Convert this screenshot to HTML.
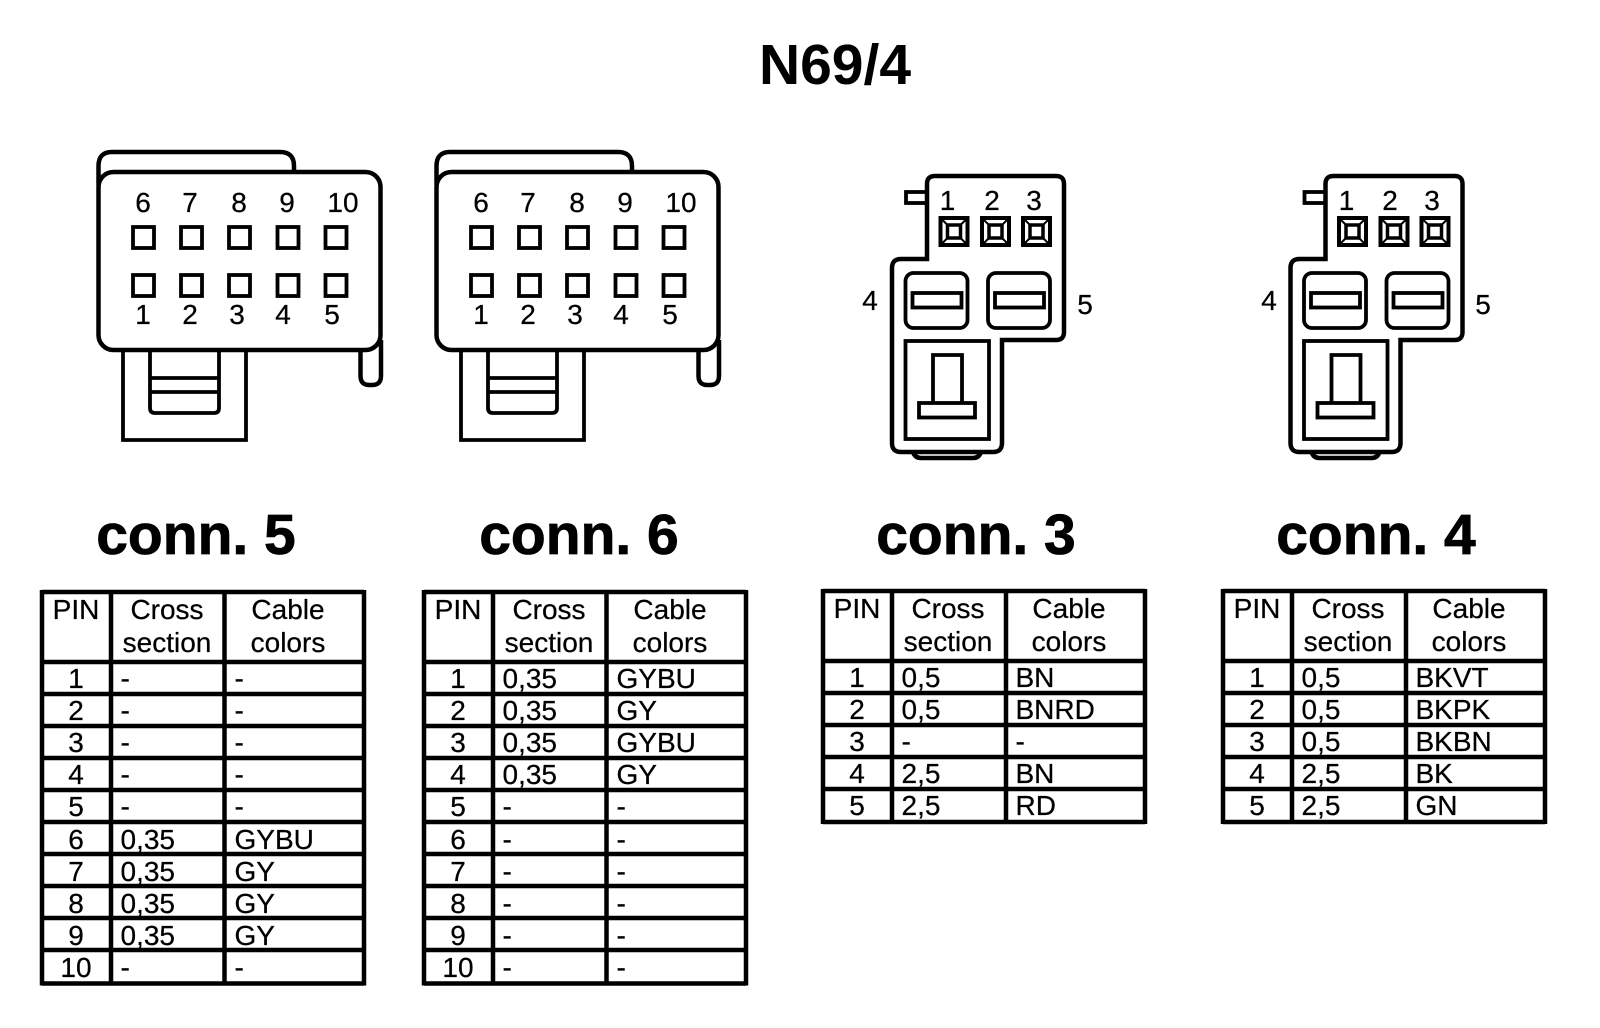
<!DOCTYPE html>
<html><head><meta charset="utf-8"><title>N69/4</title>
<style>html,body{margin:0;padding:0;background:#fff}svg{display:block}
text{font-family:"Liberation Sans",Arial,sans-serif;fill:#000}
.s{font-size:28px;stroke:#000;stroke-width:.25}.m{text-anchor:middle}.b{font-weight:bold}
.l{fill:none;stroke:#000;stroke-width:4.5}.d{fill:none;stroke:#000;stroke-width:3.8}</style></head>
<body>
<svg xmlns="http://www.w3.org/2000/svg" width="1600" height="1028" viewBox="0 0 1600 1028">
<defs>
<g id="big">
<path class="l" d="M98.500 185V166Q98.500 152 112 152H280Q294 152 294 166V172"/>
<rect class="l" x="98.500" y="172" width="282" height="178" rx="15"/>
<path class="d" d="M123 350V440H246V350"/>
<path class="d" d="M150 350V408Q150 413 155 413H214Q219 413 219 408V350M150 378H219M150 392H219"/>
<path class="l" d="M360.500 350V376Q360.500 385 369.500 385H372Q381 385 381 376V340"/>
<g class="d">
<rect x="133" y="227" width="21" height="21"/><rect x="181" y="227" width="21" height="21"/><rect x="229" y="227" width="21" height="21"/><rect x="277.500" y="227" width="21" height="21"/><rect x="325.500" y="227" width="21" height="21"/>
<rect x="133" y="275" width="21" height="21"/><rect x="181" y="275" width="21" height="21"/><rect x="229" y="275" width="21" height="21"/><rect x="277.500" y="275" width="21" height="21"/><rect x="325.500" y="275" width="21" height="21"/>
</g>
</g>
<g id="pin">
<rect x="0" y="0" width="27" height="27" fill="none" stroke="#000" stroke-width="4"/>
<rect x="7" y="7" width="13" height="13" fill="none" stroke="#000" stroke-width="3.500"/>
<path d="M0 0L7 7M27 0L20 7M0 27L7 20M27 27L20 20" stroke="#000" stroke-width="2"/>
</g>
<g id="small">
<path class="l" d="M927 259V184Q927 176 935 176H1056Q1064 176 1064 184V332Q1064 340 1056 340H1002V443Q1002 452 993 452H901Q892 452 892 443V268Q892 259 901 259Z"/>
<rect class="d" x="906" y="192" width="21" height="11"/>
<use href="#pin" x="940.500" y="218"/><use href="#pin" x="982" y="218"/><use href="#pin" x="1023" y="218"/>
<rect class="d" x="905.500" y="273" width="62" height="55" rx="8"/>
<rect class="d" x="988" y="273" width="62" height="55" rx="8"/>
<rect class="d" x="912.500" y="293" width="49" height="14.500"/>
<rect class="d" x="995" y="293" width="49" height="14.500"/>
<rect class="d" x="905.500" y="341" width="83.500" height="98"/>
<path class="d" d="M933 403V355H962V403"/>
<rect class="d" x="919" y="403" width="56" height="14.500"/>
<path class="l" d="M913 452Q915 458 921 458H973Q979 458 981 452"/>
</g>
<path id="tl" class="l" d="M42 592H364M42 662H364M42 694H364M42 726H364M42 758H364M42 790H364M42 822H364M42 854H364M42 886H364M42 918H364M42 950H364M42 983.500H364M42 590V985.500M111 592V983M224.500 592V983M364 590V985.500"/>
<path id="ts" class="l" d="M42 592H364M42 662H364M42 694H364M42 726H364M42 758H364M42 790H364M42 823H364M42 590V825M111 592V822.500M225 592V822.500M364 590V825"/>
</defs>
<rect width="1600" height="1028" fill="#fff"/>

<text class="b m" x="835" y="84" font-size="57">N69/4</text>

<use href="#big"/>
<use href="#big" x="338"/>
<use href="#small"/>
<use href="#small" x="398.500"/>

<g class="s m">
<text x="143" y="212">6</text><text x="190" y="212">7</text><text x="239" y="212">8</text><text x="287" y="212">9</text><text x="343" y="212">10</text>
<text x="143" y="324">1</text><text x="190" y="324">2</text><text x="237" y="324">3</text><text x="283" y="324">4</text><text x="332" y="324">5</text>
<text x="481" y="212">6</text><text x="528" y="212">7</text><text x="577" y="212">8</text><text x="625" y="212">9</text><text x="681" y="212">10</text>
<text x="481" y="324">1</text><text x="528" y="324">2</text><text x="575" y="324">3</text><text x="621" y="324">4</text><text x="670" y="324">5</text>
<text x="947.500" y="210">1</text><text x="992" y="210">2</text><text x="1034" y="210">3</text>
<text x="870" y="310">4</text><text x="1085" y="314">5</text>
<text x="1346.500" y="210">1</text><text x="1390" y="210">2</text><text x="1432" y="210">3</text>
<text x="1269" y="310">4</text><text x="1483" y="314">5</text>
</g>

<g class="b m" font-size="57" stroke="#000" stroke-width="0.8">
<text x="196" y="554">conn. 5</text>
<text x="579" y="554">conn. 6</text>
<text x="976" y="554">conn. 3</text>
<text x="1376" y="554">conn. 4</text>
</g>

<!-- Table conn. 5 -->
<g class="s">
<use href="#tl"/>
<g class="m"><text x="76" y="619">PIN</text><text x="167" y="619">Cross</text><text x="167" y="652">section</text><text x="288" y="619">Cable</text><text x="288" y="652">colors</text>
<text x="76" y="688">1</text><text x="76" y="720">2</text><text x="76" y="752">3</text><text x="76" y="784">4</text><text x="76" y="816">5</text><text x="76" y="849">6</text><text x="76" y="881">7</text><text x="76" y="913">8</text><text x="76" y="945">9</text><text x="76" y="977">10</text></g>
<text x="120.500" y="688">-</text><text x="234.500" y="688">-</text>
<text x="120.500" y="720">-</text><text x="234.500" y="720">-</text>
<text x="120.500" y="752">-</text><text x="234.500" y="752">-</text>
<text x="120.500" y="784">-</text><text x="234.500" y="784">-</text>
<text x="120.500" y="816">-</text><text x="234.500" y="816">-</text>
<text x="120.500" y="849">0,35</text><text x="234.500" y="849">GYBU</text>
<text x="120.500" y="881">0,35</text><text x="234.500" y="881">GY</text>
<text x="120.500" y="913">0,35</text><text x="234.500" y="913">GY</text>
<text x="120.500" y="945">0,35</text><text x="234.500" y="945">GY</text>
<text x="120.500" y="977">-</text><text x="234.500" y="977">-</text>
</g>

<!-- Table conn. 6 -->
<g class="s" transform="translate(382,0)">
<use href="#tl"/>
<g class="m"><text x="76" y="619">PIN</text><text x="167" y="619">Cross</text><text x="167" y="652">section</text><text x="288" y="619">Cable</text><text x="288" y="652">colors</text>
<text x="76" y="688">1</text><text x="76" y="720">2</text><text x="76" y="752">3</text><text x="76" y="784">4</text><text x="76" y="816">5</text><text x="76" y="849">6</text><text x="76" y="881">7</text><text x="76" y="913">8</text><text x="76" y="945">9</text><text x="76" y="977">10</text></g>
<text x="120.500" y="688">0,35</text><text x="234.500" y="688">GYBU</text>
<text x="120.500" y="720">0,35</text><text x="234.500" y="720">GY</text>
<text x="120.500" y="752">0,35</text><text x="234.500" y="752">GYBU</text>
<text x="120.500" y="784">0,35</text><text x="234.500" y="784">GY</text>
<text x="120.500" y="816">-</text><text x="234.500" y="816">-</text>
<text x="120.500" y="849">-</text><text x="234.500" y="849">-</text>
<text x="120.500" y="881">-</text><text x="234.500" y="881">-</text>
<text x="120.500" y="913">-</text><text x="234.500" y="913">-</text>
<text x="120.500" y="945">-</text><text x="234.500" y="945">-</text>
<text x="120.500" y="977">-</text><text x="234.500" y="977">-</text>
</g>

<!-- Table conn. 3 -->
<g class="s" transform="translate(781,-1)">
<use href="#ts"/>
<g class="m"><text x="76" y="619">PIN</text><text x="167" y="619">Cross</text><text x="167" y="652">section</text><text x="288" y="619">Cable</text><text x="288" y="652">colors</text>
<text x="76" y="688">1</text><text x="76" y="720">2</text><text x="76" y="752">3</text><text x="76" y="784">4</text><text x="76" y="816">5</text></g>
<text x="120.500" y="688">0,5</text><text x="234.500" y="688">BN</text>
<text x="120.500" y="720">0,5</text><text x="234.500" y="720">BNRD</text>
<text x="120.500" y="752">-</text><text x="234.500" y="752">-</text>
<text x="120.500" y="784">2,5</text><text x="234.500" y="784">BN</text>
<text x="120.500" y="816">2,5</text><text x="234.500" y="816">RD</text>
</g>

<!-- Table conn. 4 -->
<g class="s" transform="translate(1181,-1)">
<use href="#ts"/>
<g class="m"><text x="76" y="619">PIN</text><text x="167" y="619">Cross</text><text x="167" y="652">section</text><text x="288" y="619">Cable</text><text x="288" y="652">colors</text>
<text x="76" y="688">1</text><text x="76" y="720">2</text><text x="76" y="752">3</text><text x="76" y="784">4</text><text x="76" y="816">5</text></g>
<text x="120.500" y="688">0,5</text><text x="234.500" y="688">BKVT</text>
<text x="120.500" y="720">0,5</text><text x="234.500" y="720">BKPK</text>
<text x="120.500" y="752">0,5</text><text x="234.500" y="752">BKBN</text>
<text x="120.500" y="784">2,5</text><text x="234.500" y="784">BK</text>
<text x="120.500" y="816">2,5</text><text x="234.500" y="816">GN</text>
</g>
</svg>
</body></html>
